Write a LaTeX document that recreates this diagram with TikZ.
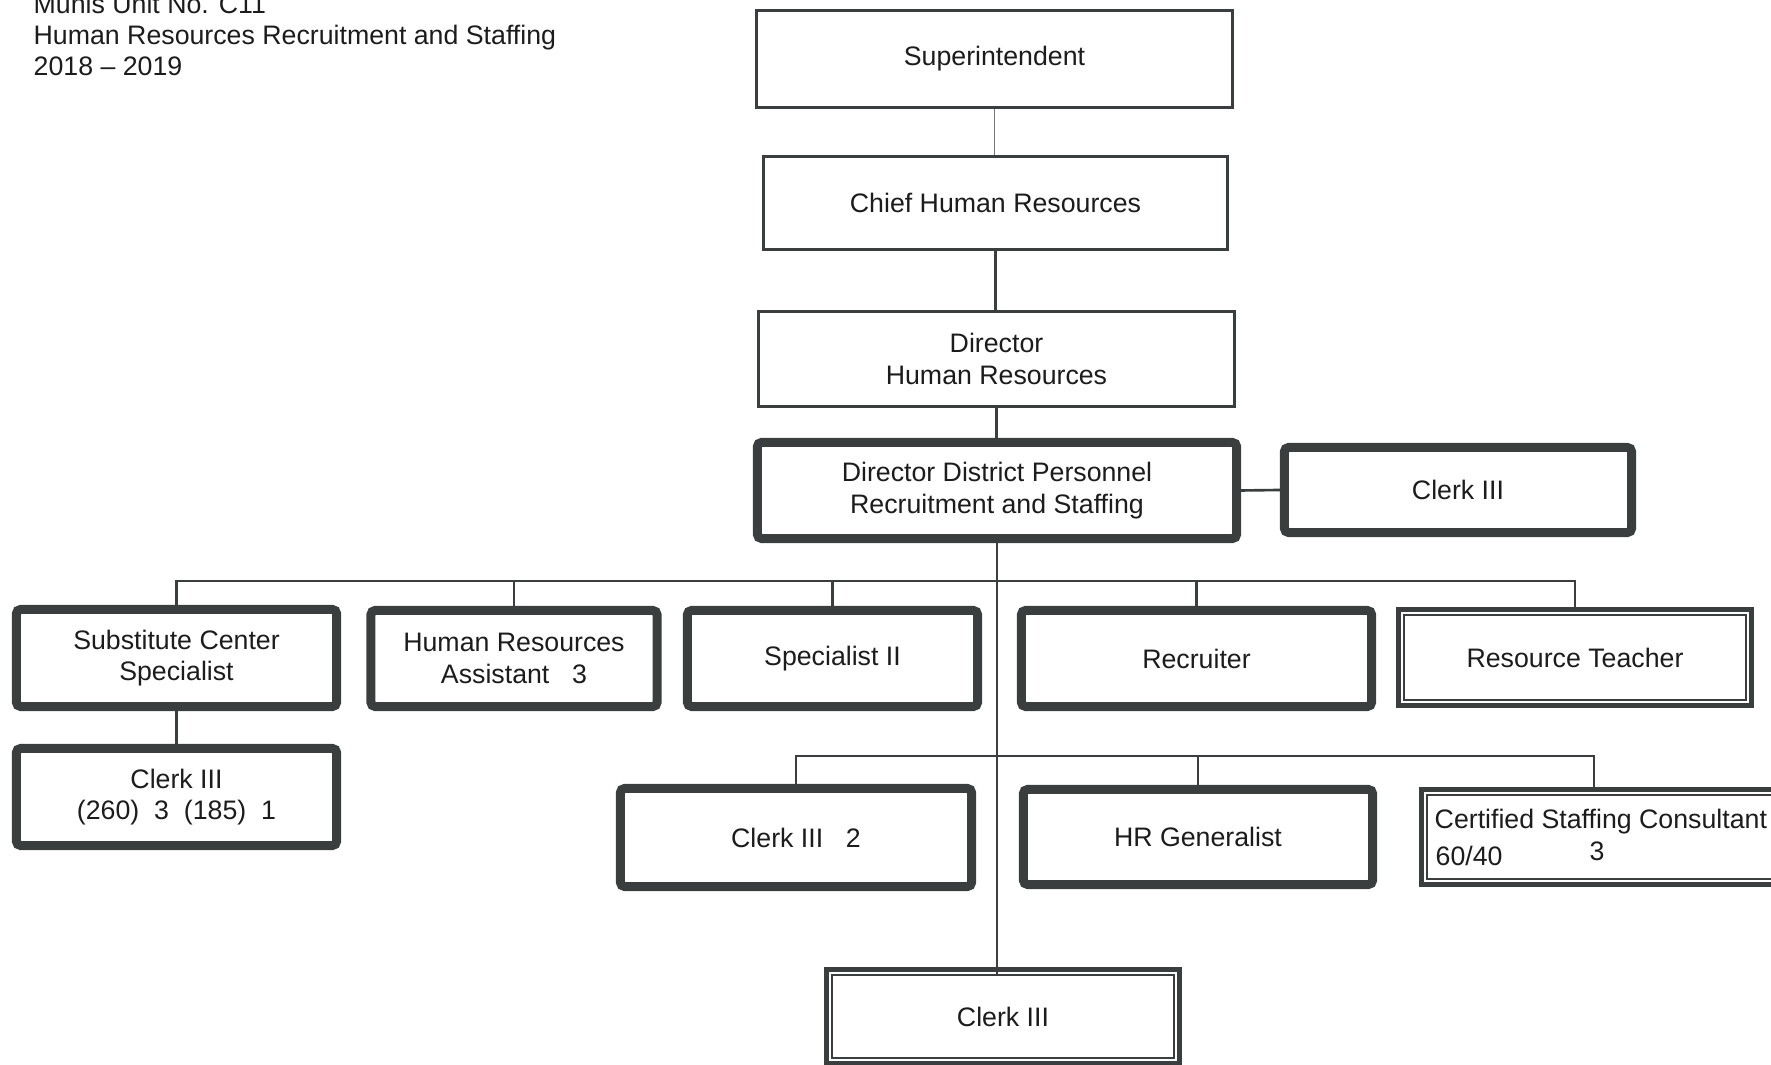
\documentclass[tikz,border=0pt]{standalone}
\usepackage{fontspec}
\setmainfont{Liberation Sans}
\usetikzlibrary{calc}
\definecolor{bord}{RGB}{58,62,62}
\definecolor{ink}{RGB}{28,28,28}
\begin{document}
\begin{tikzpicture}[x=0.01cm,y=-0.01cm,
  font=\fontsize{7.6pt}{9pt}\selectfont, text=ink,
  thinbox/.style={draw=bord, line width=0.85pt, fill=white, inner sep=0pt, align=center},
  thickbox/.style={draw=bord, line width=2.56pt, rounded corners=1.2pt, fill=white, inner sep=0pt, align=center},
  dblbox/.style={draw=bord, line width=1.45pt, fill=white, inner sep=0pt, align=center},
  innerline/.style={draw=bord, line width=0.55pt},
  conn/.style={draw=bord, line width=0.75pt},
  hair/.style={draw=bord!70, line width=0.35pt},
  plain/.style={inner sep=0pt}]
\useasboundingbox (0,0) rectangle (1771,1065);
\clip (0,0) rectangle (1771,1065);

% header
\node[plain, anchor=base west] (t1) at (33,14) {Munis Unit No. C11};
\node[plain, anchor=base west] (t2) at (33,45) {Human Resources Recruitment and Staffing};
\node[plain, anchor=base west] (t3) at (33,76) {2018 -- 2019};

% top chain
\node[thinbox, minimum width=4.76cm, minimum height=0.97cm] (sup) at (994.5,59) {Superintendent};
\node[thinbox, minimum width=4.64cm, minimum height=0.93cm] (chief) at (995.5,203) {Chief Human Resources};
\node[thinbox, minimum width=4.76cm, minimum height=0.95cm] (dirhr) at (996.5,359) {Director\\Human Resources};
\node[thickbox, minimum width=4.79cm, minimum height=0.96cm] (ddp) at (997,490.5) {Director District Personnel\\Recruitment and Staffing};
\node[thickbox, minimum width=3.47cm, minimum height=0.85cm] (clerkR) at (1458,490) {Clerk III};

% row 2
\node[thickbox, minimum width=3.20cm, minimum height=0.97cm] (subst) at (176.5,658) {Substitute Center\\Specialist};
\node[thickbox, minimum width=2.86cm, minimum height=0.96cm] (hra) at (514,658.5) {Human Resources\\Assistant\hspace{0.85em}3};
\node[thickbox, minimum width=2.90cm, minimum height=0.96cm] (spec) at (832.5,658.5) {Specialist II};
\node[thickbox, minimum width=3.50cm, minimum height=0.96cm] (recr) at (1196.5,658.5) {Recruiter};
\node[dblbox, minimum width=3.53cm, minimum height=0.96cm] (rt) at (1575,657.5) {Resource Teacher};
\draw[innerline] ($(rt.north west)+(8,8)$) rectangle ($(rt.south east)+(-8,-8)$);

% left clerk
\node[thickbox, minimum width=3.20cm, minimum height=0.97cm] (clerkL) at (176.5,797) {Clerk III\\(260)\ \ 3\ \ (185)\ \ 1};

% row 3
\node[thickbox, minimum width=3.51cm, minimum height=0.98cm] (clerk2) at (796,837.5) {Clerk III\hspace{0.85em}2};
\node[thickbox, minimum width=3.49cm, minimum height=0.95cm] (hrgen) at (1198,837) {HR Generalist};
\node[dblbox, minimum width=3.56cm, minimum height=0.95cm] (csc) at (1600,837) {};
\draw[innerline] ($(csc.north west)+(8,8)$) rectangle ($(csc.south east)+(-8,-8)$);
\node[plain, anchor=base west] (cscA) at (1434,829) {Certified Staffing Consultant};
\node[plain, anchor=base west] (cscB) at (1435,866) {60/40};
\node[plain, anchor=base] (cscC) at (1597,861) {3};

% bottom clerk
\node[dblbox, minimum width=3.53cm, minimum height=0.94cm] (clerkB) at (1003,1016.5) {Clerk III};
\draw[innerline] ($(clerkB.north west)+(8,8)$) rectangle ($(clerkB.south east)+(-8,-8)$);

% connectors
\draw[hair] (sup.south) -- (sup.south |- chief.north);
\draw[conn] (chief.south) -- (chief.south |- dirhr.north);
\draw[conn] (dirhr.south) -- (dirhr.south |- ddp.north);
\draw[conn] (ddp.east) -- (clerkR.west);
\coordinate (b1) at (998,581);
\coordinate (b2) at (998,756);
\draw[conn] (ddp.south) -- (ddp.south |- clerkB.north) -- ++(0,8);
\draw[conn] (subst.north) -- (subst.north |- b1) -- (rt.north |- b1) -- (rt.north);
\draw[conn] (hra.north) -- (hra.north |- b1);
\draw[conn] (spec.north) -- (spec.north |- b1);
\draw[conn] (recr.north) -- (recr.north |- b1);
\draw[conn] (subst.south) -- (clerkL.north);
\draw[conn] (clerk2.north) -- (clerk2.north |- b2) -- ([xshift=-0.06cm]csc.north |- b2) -- ([xshift=-0.06cm]csc.north);
\draw[conn] (hrgen.north) -- (hrgen.north |- b2);
\end{tikzpicture}
\end{document}
